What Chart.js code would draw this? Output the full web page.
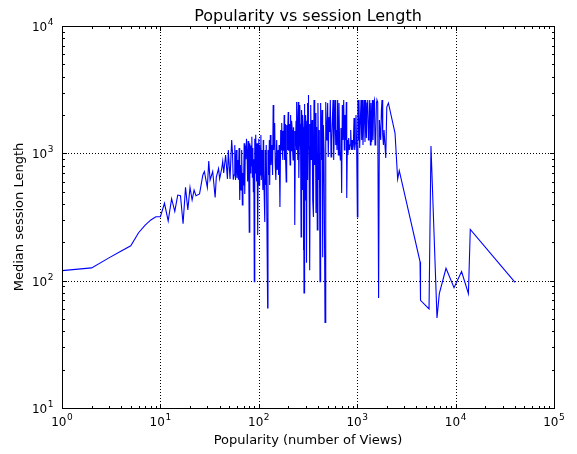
<!DOCTYPE html>
<html><head><meta charset="utf-8">
<script src="https://cdn.jsdelivr.net/npm/chart.js@4.4.0/dist/chart.umd.min.js"></script>
<style>html,body{margin:0;padding:0;background:#fff;overflow:hidden}#wrap{width:577px;height:454px;position:relative}</style>
</head><body><div id="wrap"><canvas id="c" width="577" height="454"></canvas></div>
<script>
const views = [
1,2,3,4,5,6,7,8,9,10,11,12,13,14,15,16,17,18,19,20,21,22,23,25,27,28,29,30,31,32,34,36,37,39,40,42,43,44,46,48,49,51,53,54,55,
56,57,58,59,60,61,62,63,64,65,66,67,68,69,70,71,72,73,74,75,76,77,78,79,80,81,82,83,84,85,86,87,88,89,90,91,92,93,94,95,96,97,98,99,100,
101,102,104,105,106,108,110,111,112,115,116,118,119,123,124,126,128,129,131,133,136,138,140,142,145,147,149,152,154,157,159,
161,164,167,169,170,172,173,175,176,178,179,181,182,184,185,186,187,190,191,193,194,196,197,199,200,202,203,205,206,208,209,212,213,215,216,219,220,223,224,226,227,230,231,
233,235,237,239,241,242,244,246,248,250,252,254,256,258,261,263,265,267,269,271,273,275,277,279,281,283,284,286,288,290,292,294,297,299,302,304,307,309,311,313,316,317,319,321,324,327,331,334,337,
342,348,353,359,364,370,376,381,387,393,399,405,412,419,425,432,439,446,453,460,
471,479,486,493,501,508,517,525,533,542,551,559,568,577,586,595,605,614,623,633,643,653,664,674,684,695,706,717,729,740,751,764,775,783,795,806,819,832,845,859,872,886,900,914,928,943,958,972,988,
1004,1016,1028,1043,1060,1077,1093,1111,1129,1145,1164,1183,1200,1220,1240,1258,1279,1300,1318,1340,1362,1381,1404,1427,1447,1471,1495,1517,1542,1568,1589,1616,1650,1681,1705,1733,1762,1787,1817,1848,1874,1951,1998,2075,2423,2577,2676,
4350,4400,5370,5620,6470,6830,7990,9640,11500,13500,14100,40200
];
const medianSession = [
120,126,151,171,188,238,273,300,318,318,405,295,440,350,470,465,280,540,360,540,430,515,465,480,676,720,618,540,870,618,720,450,650,760,630,760,870,700,970,630,1060,630,1270,1020,620,
676,1160,618,1060,640,887,620,1100,430,810,515,1060,393,700,560,1200,480,1150,900,1300,1000,600,1250,700,240,1200,700,1150,800,1350,650,1100,500,900,98,1300,700,1400,1000,600,1200,800,228,1100,1300,
564,1163,676,1393,618,1062,515,1273,740,289,1062,564,1163,61,1062,676,1273,564,1393,810,1163,676,2397,1062,1731,810,618,1273,740,1062,676,
1163,379,1525,1062,1300,1731,1100,886,1500,1319,1050,2000,1400,886,1700,1273,1000,596,1400,1669,1150,1062,1500,2111,1050,1273,1700,1444,1150,810,1350,2000,1050,1163,1800,1525,1100,886,1600,1273,1000,1062,1500,
274,1150,1319,1800,1062,1200,2530,1600,886,1100,2530,1800,640,1150,2397,1700,1273,1050,220,1400,2190,1800,515,1150,2000,1600,174,1100,80,1500,2440,1200,430,2000,1525,1150,138,1800,2485,1300,618,2000,2870,1150,1062,1700,121,1200,2397,
886,1827,430,316,2620,810,2073,340,1610,250,2485,618,1525,98,2485,886,2190,153,1669,1062,
47,2530,1273,1525,2485,936,1929,1471,2620,936,1273,1827,2620,886,1581,2620,1163,1525,1062,2620,970,2485,1062,886,1581,488,2397,1273,2620,1062,2000,1273,2530,446,1273,970,1319,1062,1163,1525,1062,1273,1062,1163,1895,1062,1205,2000,1101,
316,2620,1273,2620,1101,1827,2620,1273,2620,1163,1827,2620,1227,2620,1319,2485,2620,1273,1525,2620,1163,2485,1227,2620,1273,2485,2620,1163,1273,2530,2620,2530,73,1827,1525,1273,2190,2620,1393,1163,1525,919,2311,2485,1444,627,730,
141,70,60,1140,51,79,125,88,118,79,253,97
];
const xTickValues = [1,10,100,1000,10000,100000];
const xTickExponents = ['0','1','2','3','4','5'];
const yTickValues = [10,100,1000,10000];
const yTickExponents = ['1','2','3','4'];
const tickBase = '10';
const chartTitle = 'Popularity vs session Length';
const xTitle = 'Popularity (number of Views)';
const yTitle = 'Median session Length';

const FONT = "'DejaVu Sans', 'Liberation Sans', sans-serif";
const points = views.map((v,i)=>({x:v, y:medianSession[i]}));

function minorValues(min, max){
  const out=[];
  for(let d=Math.floor(Math.log10(min)); d<Math.log10(max); d++){
    for(let m=2;m<=9;m++){ const v=m*Math.pow(10,d); if(v>min && v<max) out.push(v); }
  }
  return out;
}

function drawPowerLabel(ctx, exp, xPos, baseY, align){
  ctx.font='12px '+FONT; const wb=ctx.measureText(tickBase).width;
  ctx.font='9px '+FONT; const we=ctx.measureText(exp).width;
  const gap=0.6, total=wb+gap+we;
  const start = align==='center' ? xPos-total/2 : xPos-total;
  ctx.textAlign='left'; ctx.textBaseline='alphabetic';
  ctx.font='12px '+FONT; ctx.fillText(tickBase,start,baseY);
  ctx.font='9px '+FONT; ctx.fillText(exp,start+wb+gap,baseY-6);
}

const mplPlugin = {
  id:'mpl',
  beforeDatasetsDraw(chart){
    const {ctx, chartArea:a, scales:{x,y}} = chart;
    ctx.save();
    ctx.strokeStyle='#000'; ctx.lineWidth=1; ctx.setLineDash([1,2]);
    xTickValues.forEach(v=>{const p=Math.round(x.getPixelForValue(v))+0.5; ctx.beginPath(); ctx.moveTo(p,a.top); ctx.lineTo(p,a.bottom); ctx.stroke();});
    yTickValues.forEach(v=>{const p=Math.round(y.getPixelForValue(v))+0.5; ctx.beginPath(); ctx.moveTo(a.left,p); ctx.lineTo(a.right,p); ctx.stroke();});
    ctx.restore();
  },
  afterDatasetsDraw(chart){
    const {ctx, chartArea:a, scales:{x,y}} = chart;
    ctx.save();
    ctx.strokeStyle='#000'; ctx.lineWidth=1; ctx.setLineDash([]);
    const L=Math.round(a.left)+0.5, R=Math.round(a.right)+0.5, T=Math.round(a.top)+0.5, B=Math.round(a.bottom)+0.5;
    const tick=(x1,y1,x2,y2)=>{ctx.beginPath();ctx.moveTo(x1,y1);ctx.lineTo(x2,y2);ctx.stroke();};
    const MAJ=4.5, MIN=2.5;
    xTickValues.forEach(v=>{const p=Math.round(x.getPixelForValue(v))+0.5; tick(p,B,p,B-MAJ); tick(p,T,p,T+MAJ);});
    minorValues(1,100000).forEach(v=>{const p=Math.round(x.getPixelForValue(v))+0.5; tick(p,B,p,B-MIN); tick(p,T,p,T+MIN);});
    yTickValues.forEach(v=>{const p=Math.round(y.getPixelForValue(v))+0.5; tick(L,p,L+MAJ,p); tick(R,p,R-MAJ,p);});
    minorValues(10,10000).forEach(v=>{const p=Math.round(y.getPixelForValue(v))+0.5; tick(L,p,L+MIN,p); tick(R,p,R-MIN,p);});
    ctx.strokeRect(L,T,R-L,B-T);
    ctx.fillStyle='#000';
    xTickValues.forEach((v,i)=>drawPowerLabel(ctx, xTickExponents[i], x.getPixelForValue(v), a.bottom+17.5, 'center'));
    yTickValues.forEach((v,i)=>drawPowerLabel(ctx, yTickExponents[i], a.left-8.5, y.getPixelForValue(v)+5, 'right'));
    ctx.font='16px '+FONT; ctx.textAlign='center'; ctx.textBaseline='alphabetic';
    ctx.fillText(chartTitle,(a.left+a.right)/2,21);
    ctx.restore();
  }
};

new Chart(document.getElementById('c'), {
  type:'line',
  data:{datasets:[{data:points, borderColor:'#0000ff', borderWidth:1.1, pointRadius:0, pointHoverRadius:0, tension:0, fill:false}]},
  options:{
    responsive:false, animation:false, devicePixelRatio:1,
    layout:{padding:{top:26,right:23,left:0,bottom:0}},
    plugins:{legend:{display:false}, tooltip:{enabled:false}, title:{display:false}},
    scales:{
      x:{type:'logarithmic', min:1, max:100000, position:'bottom',
        afterBuildTicks:(s)=>{s.ticks=xTickValues.map(v=>({value:v}));},
        afterFit:(s)=>{s.height=46;},
        grid:{display:false}, border:{display:false},
        ticks:{display:false},
        title:{display:true, text:xTitle, color:'#000', font:{family:FONT,size:13}, padding:{top:0,bottom:6}}
      },
      y:{type:'logarithmic', min:10, max:10000, position:'left',
        afterBuildTicks:(s)=>{s.ticks=yTickValues.map(v=>({value:v}));},
        afterFit:(s)=>{s.width=62;},
        grid:{display:false}, border:{display:false},
        ticks:{display:false},
        title:{display:true, text:yTitle, color:'#000', font:{family:FONT,size:13}, padding:{top:12,bottom:0}}
      }
    }
  },
  plugins:[mplPlugin]
});
</script></body></html>
